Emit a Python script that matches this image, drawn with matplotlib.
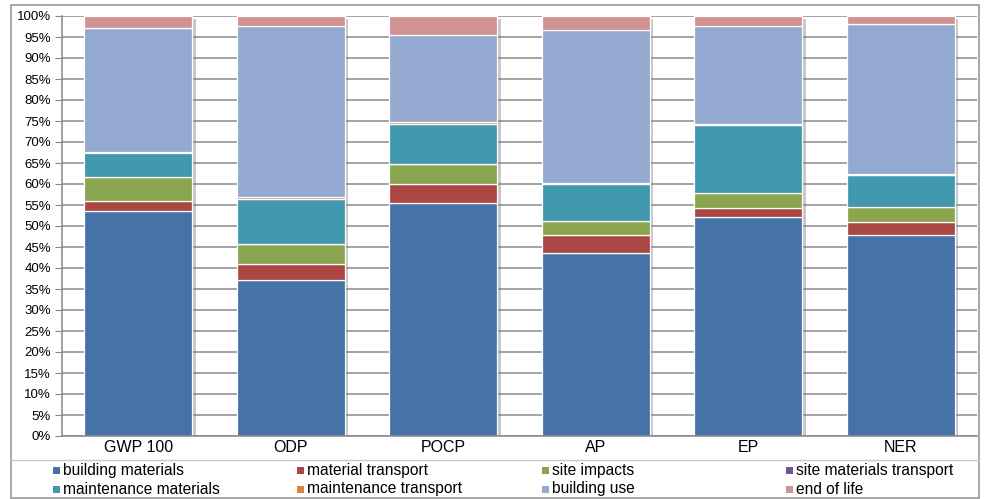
import matplotlib.pyplot as plt
import matplotlib.patheffects as pe
from matplotlib.patches import Rectangle
from matplotlib.lines import Line2D
from matplotlib.ticker import MultipleLocator, PercentFormatter
import numpy as np

plt.rcParams['font.family'] = ['Liberation Sans', 'DejaVu Sans']

categories = ["GWP 100", "ODP", "POCP", "AP", "EP", "NER"]

# percentage shares (bottom to top)
building_materials = [53.6, 37.1, 55.5, 43.5, 52.1, 47.8]
material_transport = [2.4, 3.9, 4.6, 4.3, 2.2, 3.2]
site_impacts = [5.7, 4.6, 4.6, 3.3, 3.6, 3.6]
site_materials_transport = [0.0, 0.0, 0.0, 0.0, 0.0, 0.0]
maintenance_materials = [5.8, 10.8, 9.7, 8.8, 16.2, 7.6]
maintenance_transport = [0.1, 0.4, 0.4, 0.4, 0.1, 0.3]
building_use = [29.5, 40.8, 20.7, 36.4, 23.5, 35.6]
end_of_life = [2.9, 2.4, 4.5, 3.3, 2.3, 1.9]

series = [
    ("building materials", building_materials, "#4572A7"),
    ("material transport", material_transport, "#AA4643"),
    ("site impacts", site_impacts, "#89A54E"),
    ("site materials transport", site_materials_transport, "#71588F"),
    ("maintenance materials", maintenance_materials, "#4198AF"),
    ("maintenance transport", maintenance_transport, "#DB843D"),
    ("building use", building_use, "#93A9CF"),
    ("end of life", end_of_life, "#D19392"),
]

fig = plt.figure(figsize=(9.86, 4.99), dpi=100)
ax = fig.add_axes([62 / 986, 1 - 436 / 499, 915 / 986, 420 / 499])

x = np.arange(len(categories))
width = 0.71

# shadow behind each whole stack
totals = np.sum([s[1] for s in series], axis=0)
ax.bar(x, totals, width, color="white", zorder=1,
       path_effects=[pe.SimplePatchShadow(offset=(2.5, -2), alpha=0.4, shadow_rgbFace="#777777"), pe.Normal()])

bottom = np.zeros(len(categories))
for name, vals, col in series:
    ax.bar(x, vals, width, bottom=bottom, color=col, edgecolor="white", linewidth=0.9, zorder=2)
    bottom += np.array(vals)

ax.set_xlim(-0.5, len(categories) - 0.5)
ax.set_ylim(0, 100)
ax.yaxis.set_major_locator(MultipleLocator(5))
ax.yaxis.set_major_formatter(PercentFormatter(decimals=0))
ax.set_xticks(x)
ax.set_xticklabels(categories, fontsize=11.5)
ax.tick_params(axis="x", length=0, pad=3)
ax.tick_params(axis="y", length=5, color="#868686", labelsize=9.5, pad=3)

ax.yaxis.grid(True, color="#8a8a8a", linewidth=1.1, zorder=0)
ax.set_axisbelow(True)
for side in ["top", "right"]:
    ax.spines[side].set_visible(False)
for side in ["left", "bottom"]:
    ax.spines[side].set_color("#868686")
    ax.spines[side].set_linewidth(1.1)

# outer frame and separator above legend
fig.add_artist(Rectangle((11 / 986, 1 - 498 / 499), 968 / 986, 493 / 499,
                         transform=fig.transFigure, fill=False, edgecolor="#9a9a9a", linewidth=1.2))
fig.add_artist(Line2D([11 / 986, 979 / 986], [1 - 460 / 499, 1 - 460 / 499],
                      transform=fig.transFigure, color="#c8c8c8", linewidth=1.0))

# legend laid out in 4 columns, 2 rows
col_x = [53, 297, 542, 786]
row_y = [470, 489]
for i, (name, vals, col) in enumerate(series):
    r, c = divmod(i, 4)
    px, py = col_x[c], row_y[r]
    fig.add_artist(Rectangle((px / 986, 1 - (py + 3.5) / 499), 7 / 986, 7 / 499,
                             transform=fig.transFigure, facecolor=col, edgecolor="none"))
    fig.text((px + 10) / 986, 1 - py / 499, name, fontsize=11.2, va="center", ha="left")

fig.savefig("out.png", dpi=100)
